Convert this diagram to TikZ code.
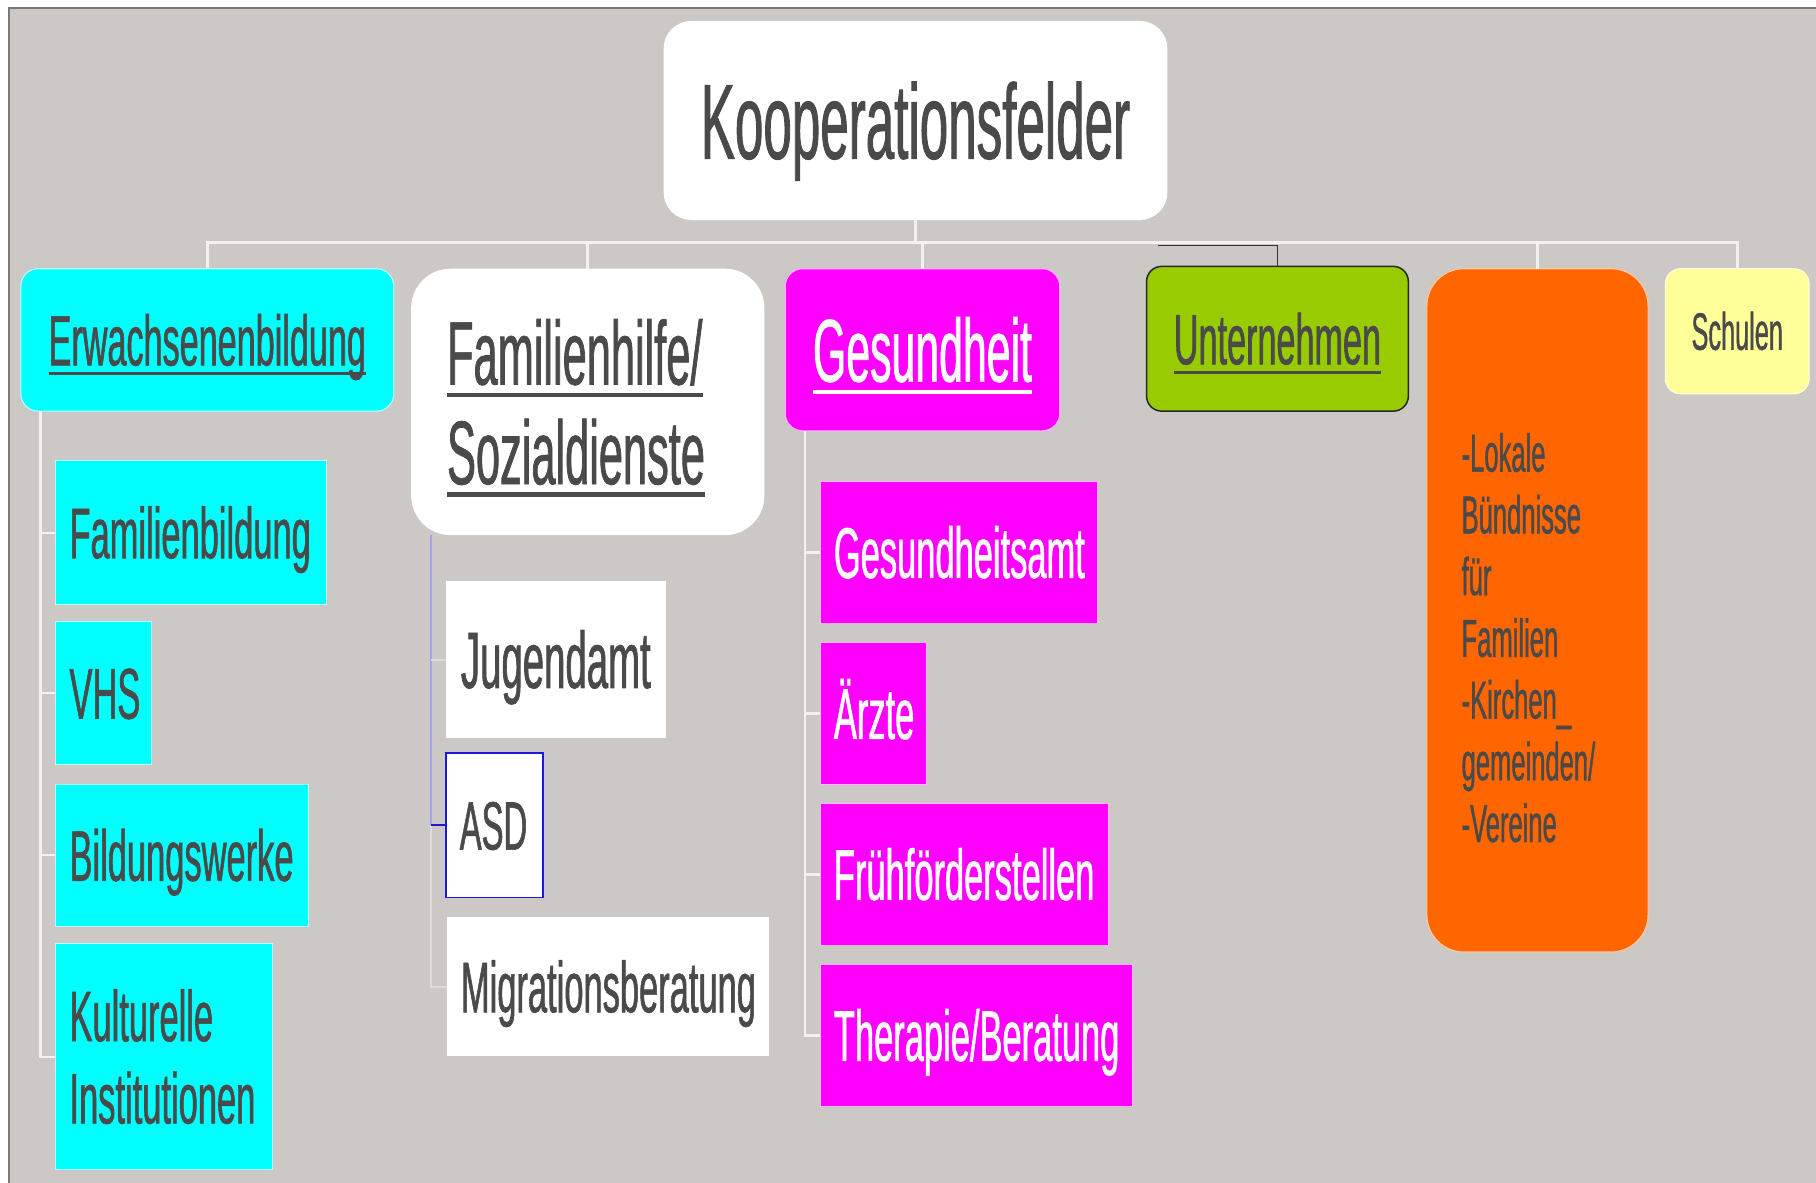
\documentclass[tikz,border=0pt]{standalone}
\usepackage{fontspec}
\newfontfamily\nf[FakeStretch=0.48,FakeBold=0.8]{Liberation Sans}
\usetikzlibrary{calc}
\definecolor{bg}{HTML}{CBC8C5}
\definecolor{frame}{HTML}{7A7A7A}
\definecolor{tx}{HTML}{4A4A4A}
\definecolor{cy}{HTML}{00FFFF}
\definecolor{cyb}{HTML}{B8FFFF}
\definecolor{mg}{HTML}{FF00FF}
\definecolor{mgb}{HTML}{FFB0FF}
\definecolor{gn}{HTML}{99CC00}
\definecolor{og}{HTML}{FF6600}
\definecolor{ogb}{HTML}{FFC8A0}
\definecolor{yl}{HTML}{FFFF99}
\definecolor{ylb}{HTML}{FFFFD8}
\definecolor{treec}{HTML}{F2F2F2}
\definecolor{lav}{HTML}{A4A4E6}
\definecolor{asdb}{HTML}{1A1AD8}
\definecolor{lgr}{HTML}{DCDCDC}
\newsavebox\ulbox
\newcommand\ulx[1]{\sbox\ulbox{#1}\rlap{\rule[-0.26ex]{\wd\ulbox}{0.09ex}}\usebox\ulbox}
\newcommand\tline[2]{\hbox to #1{#2\hfil}}
\begin{document}
\begin{tikzpicture}[x=1pt,y=-1pt,
  box/.style={inner sep=0pt, outer sep=0pt, text depth=0pt, anchor=center},
  tree/.style={draw=treec, line width=2.6pt},
  tree2/.style={draw=treec, line width=1.9pt},
  dark/.style={draw=black!80, line width=1.4pt}]
\useasboundingbox (0,0) rectangle (1568,1021);
\fill[white] (0,0) rectangle (1568,1021);
\fill[bg] (8,7) rectangle (1568,1021);
\draw[frame, line width=2pt] (8,1021) -- (8,7) -- (1568,7);

% level 0
\node[box, fill=white, rounded corners=24pt, minimum width=435pt, minimum height=172pt,
  text=tx, font=\nf\fontsize{92}{100}\selectfont, text height=66pt] (root) at (790.5,104) {Kooperationsfelder};

% level 1
\node[box, fill=cy, draw=cyb, line width=1pt, rounded corners=15pt, minimum width=322pt, minimum height=123pt,
  text=tx, font=\nf\fontsize{61.5}{70}\selectfont, text height=44pt] (erw) at (179,293.5) {\ulx{Erwachsenenbildung}};
\node[box, fill=white, rounded corners=34pt, minimum width=305pt, minimum height=230pt, inner xsep=31pt,
  text=tx, font=\nf\fontsize{78}{86}\selectfont, text height=142pt] (fam) at (507.5,347)
  {\vbox{\baselineskip=86pt\lineskiplimit=-200pt
   \tline{243pt}{\ulx{Familienhilfe/}}\tline{243pt}{\ulx{Sozialdienste}}}};
\node[box, fill=mg, draw=mgb, line width=1pt, rounded corners=15pt, minimum width=237pt, minimum height=140pt,
  text=white, font=\nf\fontsize{77}{86}\selectfont, text height=55pt] (ges) at (796.5,302) {\ulx{Gesundheit}};
\node[box, fill=gn, draw=black!85, line width=1.3pt, rounded corners=13pt, minimum width=226pt, minimum height=125pt,
  text=tx, font=\nf\fontsize{61.5}{70}\selectfont, text height=44pt] (unt) at (1103,292.5) {\ulx{Unternehmen}};
\node[box, fill=og, draw=ogb, line width=1pt, rounded corners=32pt, minimum width=191pt, minimum height=590pt, inner xsep=30pt,
  text=tx, font=\nf\fontsize{46}{53}\selectfont, text height=400pt] (org) at (1327.5,527)
  {\vbox{\baselineskip=53.3pt\lineskiplimit=-200pt
   \tline{131pt}{-Lokale}\tline{131pt}{Bündnisse}\tline{131pt}{für}\tline{131pt}{Familien}%
   \tline{131pt}{-Kirchen\_}\tline{131pt}{gemeinden/}\tline{131pt}{-Vereine}}};
\node[box, fill=yl, draw=ylb, line width=1pt, rounded corners=13pt, minimum width=124pt, minimum height=108pt,
  text=tx, font=\nf\fontsize{45.5}{52}\selectfont, text height=32pt] (sch) at (1500,286) {Schulen};

% level 2: Erwachsenenbildung
\tikzset{cbox/.style={box, fill=cy, draw=cyb, line width=0.8pt, inner xsep=12pt, text=tx,
  font=\nf\fontsize{62}{70}\selectfont, text height=44pt}}
\node[cbox, minimum width=234pt, minimum height=124pt] (fb) at (165,460) {\tline{210pt}{Familienbildung}};
\node[cbox, minimum width=83pt, minimum height=123pt] (vhs) at (89.5,598.5) {\tline{59pt}{VHS}};
\node[cbox, minimum width=218pt, minimum height=123pt] (bw) at (157,738.5) {\tline{194pt}{Bildungswerke}};
\node[cbox, minimum width=187pt, minimum height=195pt, text height=115pt] (ki) at (141.5,912.5)
  {\vbox{\baselineskip=71pt\lineskiplimit=-200pt\tline{163pt}{Kulturelle}\tline{163pt}{Institutionen}}};

% level 2: Familienhilfe
\tikzset{wbox/.style={box, fill=white, inner xsep=12pt, text=tx, font=\nf\fontsize{62}{70}\selectfont, text height=44pt}}
\node[wbox, minimum width=190pt, minimum height=135pt, inner xsep=13pt, font=\nf\fontsize{69}{76}\selectfont, text height=49pt] (jug) at (480,569.5) {\tline{164pt}{Jugendamt}};
\node[wbox, draw=asdb, line width=1.5pt, minimum width=84pt, minimum height=125pt, font=\nf\fontsize{59}{66}\selectfont, text height=42pt] (asd) at (427,712.5) {\tline{60pt}{ASD}};
\node[wbox, minimum width=278pt, minimum height=120pt] (mig) at (525,852) {\tline{254pt}{Migrationsberatung}};

% level 2: Gesundheit
\tikzset{mbox/.style={box, fill=mg, draw=mgb, line width=0.8pt, inner xsep=12pt, text=white,
  font=\nf\fontsize{62}{70}\selectfont, text height=44pt}}
\node[mbox, minimum width=240pt, minimum height=122pt] (ga) at (828,477) {\tline{216pt}{Gesundheitsamt}};
\node[mbox, minimum width=92pt, minimum height=122pt] (ae) at (754,616) {\tline{68pt}{Ärzte}};
\node[mbox, minimum width=249pt, minimum height=122pt] (ff) at (832.5,755) {\tline{225pt}{Frühförderstellen}};
\node[mbox, minimum width=270pt, minimum height=122pt] (tb) at (843,894) {\tline{246pt}{Therapie/Beratung}};

% connectors level 0 -> 1
\coordinate (bus) at (0,209);
\foreach \n in {erw,fam,ges,org,sch}
  \draw[tree] (root.south) |- (\n.north |- bus) -- (\n.north);
\coordinate (dk) at (1000,212);
\draw[dark] (dk) -| (unt.north);

% connectors level 1 -> 2
\coordinate (ev) at ([xshift=17pt]erw.south west);
\foreach \n in {fb,vhs,bw,ki}
  \draw[tree2] (ev) |- (\n.west);
\coordinate (gv) at ([xshift=17pt]ges.south west);
\foreach \n in {ga,ae,ff,tb}
  \draw[tree2] (gv) |- (\n.west);
\coordinate (fv) at ([xshift=17pt]fam.south west);
\draw[draw=lav, line width=1.4pt] (fv) -- (fv |- asd.west);
\draw[draw=lgr, line width=1.6pt] (fv |- asd.west) |- (mig.west);
\draw[draw=lgr, line width=1.6pt] (fv |- jug.west) -- (jug.west);
\draw[draw=asdb, line width=1.8pt] (fv |- asd.west) -- (asd.west);
\end{tikzpicture}
\end{document}
